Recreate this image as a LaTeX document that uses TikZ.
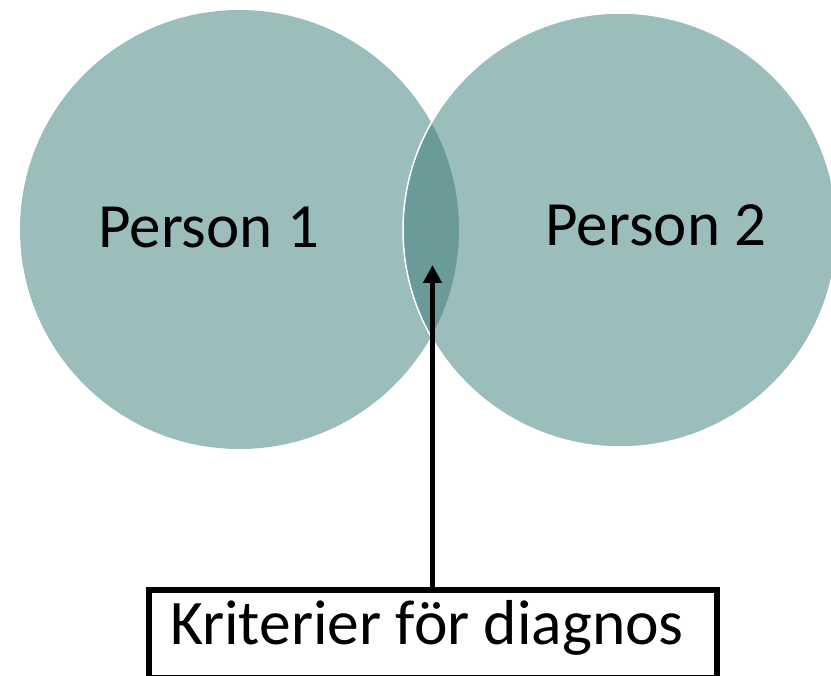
\documentclass[tikz,border=0pt]{standalone}
\usepackage{fontspec}
\setmainfont{Carlito}
\usetikzlibrary{positioning,arrows.meta}

\definecolor{circfill}{RGB}{155,189,187}
\definecolor{lensfill}{RGB}{106,155,152}

\begin{document}
\begin{tikzpicture}[x=1pt,y=-1pt,
  personlabel/.style={anchor=base,inner sep=0pt,font=\fontsize{63}{70}\selectfont},
  critbox/.style={draw,line width=6pt,outer sep=0pt,inner ysep=0pt,
    minimum width=568pt,text height=54pt,text depth=34pt,
    font=\fontsize{63.5}{70}\selectfont}]
\useasboundingbox (0,0) rectangle (831,676);
\clip (0,0) rectangle (831,676);
% the two circles
\fill[circfill] (239.5,229.5) circle (219.5);
\fill[circfill] (620,230) circle (217);
\begin{scope}
\clip (239.5,229.5) circle (219.5);
\fill[lensfill] (620,230) circle (217);
\end{scope}
\draw[white,line width=1.5pt] (620,230) circle (217);
% labels
\node[personlabel] (p1) at (208.7,248) {Person 1};
\node[personlabel] (p2) at (656,246) {Person 2};
% criteria box
\node[critbox,anchor=north] (crit) at (432.5,590) {Kriterier för diagnos\hspace*{11pt}};
\coordinate (lens) at (432.5,265);
\draw[line width=5pt,-{Triangle[length=18pt,width=18pt]}] (crit.north) -- (lens);
\end{tikzpicture}
\end{document}
